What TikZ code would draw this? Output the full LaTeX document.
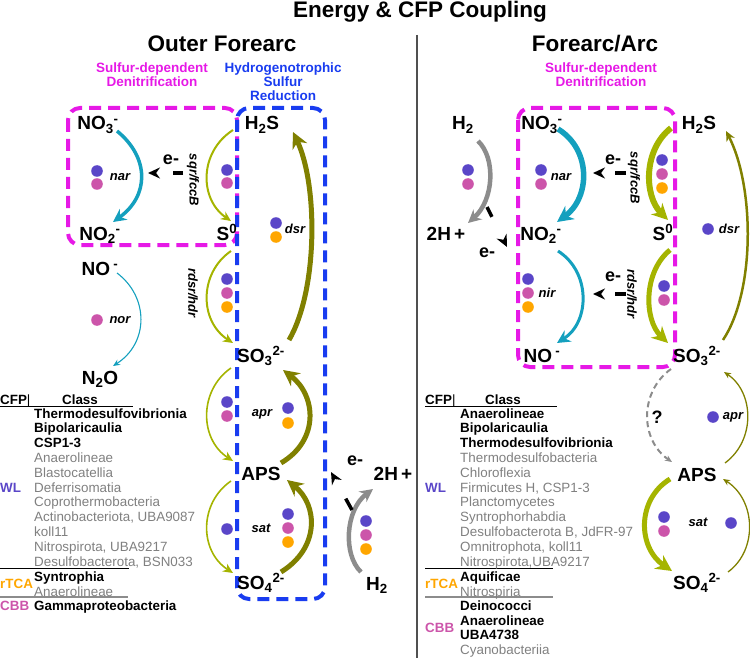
\documentclass[tikz,border=0pt]{standalone}
\usepackage{fontspec}
\setmainfont{Liberation Sans}
\usetikzlibrary{arrows.meta}
\definecolor{mag}{RGB}{230,25,230}
\definecolor{blu}{RGB}{25,60,240}
\definecolor{tealc}{RGB}{20,160,190}
\definecolor{olvL}{RGB}{165,180,0}
\definecolor{olvD}{RGB}{128,128,0}
\definecolor{gry}{RGB}{140,140,140}
\definecolor{txtg}{RGB}{128,128,128}
\definecolor{wlc}{RGB}{90,70,200}
\definecolor{cbbc}{RGB}{204,85,170}
\definecolor{rtc}{RGB}{255,166,0}
\definecolor{divc}{RGB}{80,80,80}
\newcommand\chsub[1]{\textsubscript{#1}}
\newcommand\chsup[1]{\textsuperscript{#1}}
\begin{document}
\begin{tikzpicture}[x=1pt,y=-1pt,
  chem/.style={font=\bfseries\fontsize{19}{20}\selectfont, inner sep=0pt, anchor=base},
  ttl/.style={font=\bfseries\fontsize{22.5}{24}\selectfont, inner sep=0pt, anchor=base},
  grp/.style={font=\bfseries\fontsize{13.5}{13.8}\selectfont, align=center, anchor=north, inner sep=0pt},
  enz/.style={font=\bfseries\itshape\fontsize{13}{14}\selectfont, inner sep=0pt},
  elab/.style={font=\bfseries\fontsize{18}{19}\selectfont, inner sep=0pt},
  clsb/.style={font=\bfseries\fontsize{13.4}{14}\selectfont, inner sep=0pt, anchor=base west},
  clsg/.style={font=\fontsize{13.4}{14}\selectfont, text=txtg, inner sep=0pt, anchor=base west},
  magbox/.style={draw=mag, line width=4pt, dash pattern=on 12pt off 7pt, rounded corners=12pt},
  blubox/.style={draw=blu, line width=4pt, dash pattern=on 12pt off 7pt, rounded corners=12pt},
  arrXL/.style={-{Stealth[length=16pt,width=16pt]}},
  arrL/.style={-{Stealth[length=13pt,width=13pt]}},
  arrM/.style={-{Stealth[length=10pt,width=9pt]}},
  arrS/.style={-{Stealth[length=7pt,width=6pt]}},
  earr/.style={black, line width=3.5pt, -{Stealth[length=12pt,width=11pt]}},
  dot/.style={radius=5.8pt}
]
\useasboundingbox (0,0) rectangle (750,658);

% divider
\draw[divc, line width=1.2pt] (417,35) -- (417,658);

% boxes
\draw[magbox] (68,108) rectangle (237,245);
\draw[blubox] (237,108) rectangle (325,599);
\draw[magbox] (518,108) rectangle (675,367);

% titles
\node[ttl] (title) at (420,17.5) {Energy \& CFP Coupling};
\node[ttl] (outer) at (222,52) {Outer Forearc};
\node[ttl] (farc) at (595,52) {Forearc/Arc};
\node[grp, text=mag] (sddL) at (152,62.5) {Sulfur-dependent\\Denitrification};
\node[grp, text=blu] (hsr) at (283,62.5) {Hydrogenotrophic\\Sulfur\\Reduction};
\node[grp, text=mag] (sddR) at (601,62.5) {Sulfur-dependent\\Denitrification};

% chemical species, left
\node[chem] (no3L) at (98,130) {NO\chsub{3}\chsup{-}};
\node[chem] (no2L) at (100,240) {NO\chsub{2}\chsup{-}};
\node[chem] (s0L) at (227,240) {S\chsup{0}};
\node[chem] (h2sL) at (262,130) {H\chsub{2}S};
\node[chem] (noL) at (100,275) {NO\,\chsup{-}};
\node[chem] (n2oL) at (100,384) {N\chsub{2}O};
\node[chem] (so3L) at (261,362) {SO\chsub{3}\chsup{2-}};
\node[chem] (apsL) at (261,480) {APS};
\node[chem] (so4L) at (261,589) {SO\chsub{4}\chsup{2-}};
\node[chem] (h2L) at (377,590) {H\chsub{2}};
\node[chem] (hpL) at (393,480) {2H\,+};

% chemical species, right
\node[chem] (h2R) at (463,130) {H\chsub{2}};
\node[chem] (no3R) at (542,130) {NO\chsub{3}\chsup{-}};
\node[chem] (h2sR) at (699,130) {H\chsub{2}S};
\node[chem] (hpR) at (446,240) {2H\,+};
\node[chem] (no2R) at (541,240) {NO\chsub{2}\chsup{-}};
\node[chem] (s0R) at (663,240) {S\chsup{0}};
\node[chem] (noR) at (542,362) {NO\,\chsup{-}};
\node[chem] (so3R) at (697,362) {SO\chsub{3}\chsup{2-}};
\node[chem] (apsR) at (697,481) {APS};
\node[chem] (so4R) at (697,589) {SO\chsub{4}\chsup{2-}};

% enzyme labels
\node[enz] (narL) at (120,177) {nar};
\node[enz, rotate=-90] (sqrL) at (193,180) {sqr/fccB};
\node[enz] (dsrL) at (295,229) {dsr};
\node[enz, rotate=-90] (rdsrL) at (193,293) {rdsr/hdr};
\node[enz] (norL) at (120,320) {nor};
\node[enz] (aprL) at (262,414) {apr};
\node[enz] (satL) at (261,528) {sat};
\node[enz] (narR) at (561,177) {nar};
\node[enz, rotate=-90] (sqrR) at (634,178) {sqr/fccB};
\node[enz] (nirR) at (547,293) {nir};
\node[enz, rotate=-90] (rdsrR) at (632,294) {rdsr/hdr};
\node[enz] (dsrR) at (729,229) {dsr};
\node[enz] (aprR) at (733,417) {apr};
\node[enz] (satR) at (698,522) {sat};

% electron labels
\node[elab] (eL1) at (171,160) {e-};
\node[elab] (eL2) at (355,461) {e-};
\node[elab] (eR1) at (613,160) {e-};
\node[elab] (eR2) at (613,277) {e-};
\node[elab] (eR3) at (487,253) {e-};
\node[elab] (qm) at (657,417) {?};

% arrows left
\draw[tealc, line width=3.5pt, arrL] ([shift={(19,1)}]no3L.base) .. controls (150,158) and (149,196) .. ([shift={(13,-18)}]no2L.base);
\draw[tealc, line width=1.1pt, arrS] ([shift={(17,-2)}]noL.base) .. controls (149,297) and (149,343) .. ([shift={(13,-18)}]n2oL.base);
\draw[olvL, line width=2pt, arrM] ([shift={(-29,0)}]h2sL.base) .. controls (199,152) and (199,199) .. ([shift={(4,-19)}]s0L.base);
\draw[olvL, line width=2pt, arrM] ([shift={(4,11)}]s0L.base) .. controls (199,273) and (199,321) .. ([shift={(-28,-19)}]so3L.base);
\draw[olvL, line width=1.6pt, arrM] ([shift={(-30,6)}]so3L.base) .. controls (199,390) and (199,439) .. ([shift={(-28,-19)}]apsL.base);
\draw[olvL, line width=1.6pt, arrM] ([shift={(-30,1)}]apsL.base) .. controls (199,503) and (199,551) .. ([shift={(-28,-16)}]so4L.base);
\draw[olvD, line width=5pt, arrXL] ([shift={(20,-17)}]so4L.base) .. controls (320,548) and (318,505) .. ([shift={(26,0)}]apsL.base);
\draw[olvD, line width=5pt, arrXL] ([shift={(20,-17)}]apsL.base) .. controls (320,440) and (316,395) .. ([shift={(22,8)}]so3L.base);
\draw[olvD, line width=5pt, arrXL] ([shift={(28,-22)}]so3L.base) .. controls (318,290) and (318,185) .. ([shift={(31,2)}]h2sL.base);
\draw[gry, line width=4.5pt, arrL] ([shift={(-16,-18)}]h2L.base) .. controls (343,555) and (345,510) .. ([shift={(-20,9)}]hpL.base);

% arrows right
\draw[gry, line width=4.5pt, arrL] ([shift={(15,11)}]h2R.base) .. controls (496,158) and (494,200) .. ([shift={(22,-17)}]hpR.base);
\draw[tealc, line width=5.5pt, arrXL] ([shift={(16,-1)}]no3R.base) .. controls (592,150) and (590,198) .. ([shift={(16,-18)}]no2R.base);
\draw[tealc, line width=3pt, arrL] ([shift={(17,11)}]no2R.base) .. controls (591,272) and (590,322) .. ([shift={(15,-19)}]noR.base);
\draw[olvL, line width=6pt, arrXL] ([shift={(-28,-2)}]h2sR.base) .. controls (643,150) and (644,196) .. ([shift={(5,-20)}]s0R.base);
\draw[olvL, line width=5pt, arrXL] ([shift={(7,10)}]s0R.base) .. controls (643,272) and (644,320) .. ([shift={(-29,-19)}]so3R.base);
\draw[olvD, line width=2.5pt, arrM] ([shift={(26,-22)}]so3R.base) .. controls (756,290) and (754,185) .. ([shift={(27,1)}]h2sR.base);
\draw[gry, line width=2pt, dash pattern=on 6pt off 4pt, arrS] ([shift={(-26,7)}]so3R.base) .. controls (639,392) and (640,440) .. ([shift={(-25,-19)}]apsR.base);
\draw[olvD, line width=1.3pt, arrS] ([shift={(28,-18)}]apsR.base) .. controls (756,440) and (754,392) .. ([shift={(27,10)}]so3R.base);
\draw[olvL, line width=5pt, arrXL] ([shift={(-27,-2)}]apsR.base) .. controls (636,500) and (638,548) .. ([shift={(-25,-18)}]so4R.base);
\draw[olvD, line width=1.3pt, arrS] ([shift={(31,-17)}]so4R.base) .. controls (758,550) and (756,500) .. ([shift={(26,-2)}]apsR.base);

% electron transfer arrows
\draw[earr, dash pattern=on 10pt off 30pt] ([shift={(12,13)}]eL1.center) -- ([shift={(-23,13)}]eL1.center);
\draw[earr, dash pattern=on 13pt off 30pt] ([shift={(-3,49)}]eL2.center) -- ([shift={(-24,11)}]eL2.center);
\draw[earr, dash pattern=on 11pt off 30pt] ([shift={(13,13)}]eR1.center) -- ([shift={(-20,13)}]eR1.center);
\draw[earr, dash pattern=on 11pt off 30pt] ([shift={(13,17)}]eR2.center) -- ([shift={(-20,17)}]eR2.center);
\draw[earr, dash pattern=on 11pt off 40pt] ([shift={(0,-46)}]eR3.center) -- ([shift={(20,-6)}]eR3.center);

% dots left
\fill[wlc] (97,171) circle[dot]; \fill[cbbc] (97,184) circle[dot];
\fill[wlc] (227,170) circle[dot]; \fill[cbbc] (227,183) circle[dot];
\fill[wlc] (276,223) circle[dot]; \fill[rtc] (276,237) circle[dot];
\fill[wlc] (227,279) circle[dot]; \fill[cbbc] (227,293) circle[dot]; \fill[rtc] (227,307) circle[dot];
\fill[cbbc] (97,320) circle[dot];
\fill[wlc] (227,402) circle[dot]; \fill[cbbc] (227,416) circle[dot];
\fill[wlc] (288,408) circle[dot]; \fill[rtc] (288,423) circle[dot];
\fill[wlc] (227,529) circle[dot];
\fill[wlc] (288,514) circle[dot]; \fill[cbbc] (288,528) circle[dot]; \fill[rtc] (288,542) circle[dot];
\fill[wlc] (366,521) circle[dot]; \fill[cbbc] (366,535) circle[dot]; \fill[rtc] (366,549) circle[dot];
% dots right
\fill[wlc] (468,170) circle[dot]; \fill[cbbc] (468,184) circle[dot];
\fill[wlc] (541,170) circle[dot]; \fill[cbbc] (541,184) circle[dot];
\fill[wlc] (662,160) circle[dot]; \fill[cbbc] (662,174) circle[dot]; \fill[rtc] (662,188) circle[dot];
\fill[wlc] (528,279) circle[dot]; \fill[cbbc] (528,293) circle[dot]; \fill[rtc] (528,307) circle[dot];
\fill[wlc] (664,286) circle[dot]; \fill[cbbc] (664,300) circle[dot];
\fill[wlc] (708,229) circle[dot];
\fill[wlc] (713,417) circle[dot];
\fill[wlc] (664,517) circle[dot]; \fill[cbbc] (664,531) circle[dot];
\fill[wlc] (731,523) circle[dot];

% class list left
\node[clsb] (cfpL) at (0,404.5) {CFP{\mdseries|}};
\node[clsb, anchor=base] (classL) at (80,404.5) {Class};
\draw[black, line width=0.9pt] (0,406.5) -- (133,406.5);
\draw[black, line width=0.9pt] (0,568) -- (129,568);
\draw[gry, line width=1.5pt] (0,597) -- (128,597);
\node[clsb, text=wlc] (wlL) at (0,492) {WL};
\node[clsb, text=rtc] (rtcaL) at (0,588) {rTCA};
\node[clsb, text=cbbc] (cbbL) at (0,610) {CBB};
\foreach \yy/\nm [count=\i] in {418/Thermodesulfovibrionia, 432.8/Bipolaricaulia, 447.6/CSP1-3, 581/Syntrophia, 610/Gammaproteobacteria}
  \node[clsb] (cLb\i) at (34,\yy) {\nm};
\foreach \yy/\nm [count=\i] in {462.4/Anaerolineae, 477.2/Blastocatellia, 492/Deferrisomatia, 506.8/Coprothermobacteria, {521.6/Actinobacteriota, UBA9087}, 536.4/koll11, {551.2/Nitrospirota, UBA9217}, {566/Desulfobacterota, BSN033}, 596/Anaerolineae}
  \node[clsg] (cLg\i) at (34,\yy) {\nm};

% class list right
\node[clsb] (cfpR) at (425,404.5) {CFP{\mdseries|}};
\node[clsb, anchor=base] (classR) at (503,404.5) {Class};
\draw[black, line width=0.9pt] (425,406.5) -- (557,406.5);
\draw[black, line width=0.9pt] (425,568) -- (553,568);
\draw[gry, line width=1.5pt] (425,597) -- (553,597);
\node[clsb, text=wlc] (wlR) at (425,492) {WL};
\node[clsb, text=rtc] (rtcaR) at (425,588) {rTCA};
\node[clsb, text=cbbc] (cbbR) at (425,632) {CBB};
\foreach \yy/\nm [count=\i] in {418/Anaerolineae, 432.8/Bipolaricaulia, 447.6/Thermodesulfovibrionia, 581/Aquificae, 610/Deinococci, 625/Anaerolineae, 639/UBA4738}
  \node[clsb] (cRb\i) at (460,\yy) {\nm};
\foreach \yy/\nm [count=\i] in {462.4/Thermodesulfobacteria, 477.2/Chloroflexia, {492/Firmicutes H, CSP1-3}, 506.8/Planctomycetes, 521.6/Syntrophorhabdia, {536.4/Desulfobacterota B, JdFR-97}, {551.2/Omnitrophota, koll11}, {566/Nitrospirota,UBA9217}, 596/Nitrospiria, 654/Cyanobacteriia}
  \node[clsg] (cRg\i) at (460,\yy) {\nm};
\end{tikzpicture}
\end{document}
